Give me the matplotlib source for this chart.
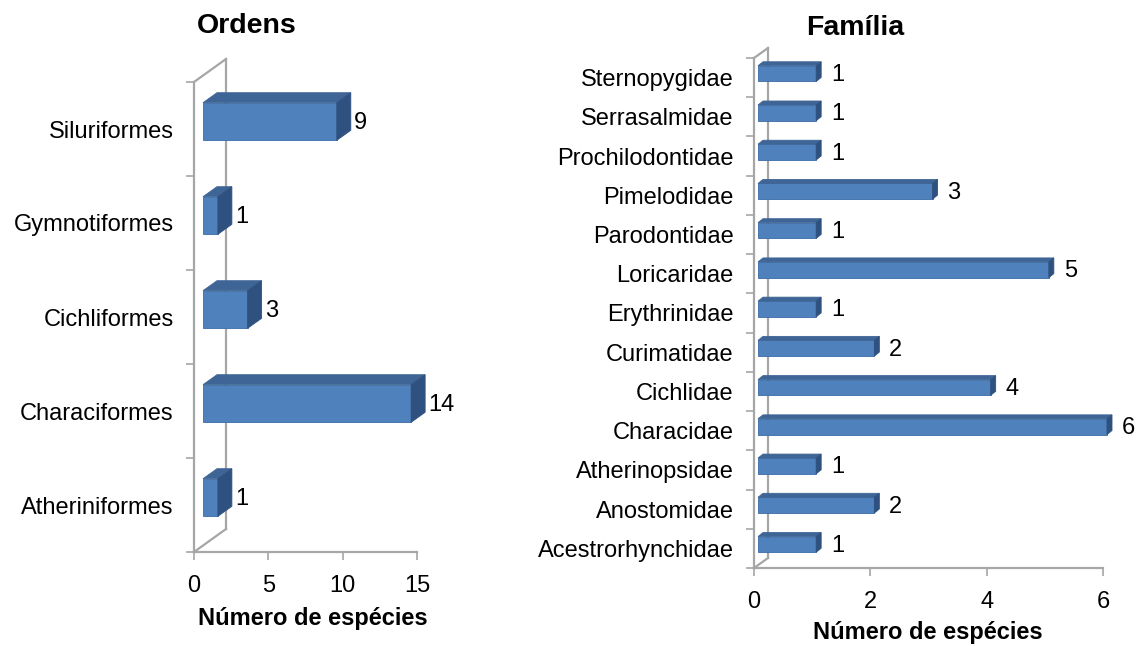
import matplotlib
matplotlib.use("Agg")
import matplotlib.pyplot as plt
from matplotlib.patches import Polygon

plt.rcParams["font.family"] = ["Liberation Sans", "DejaVu Sans"]

# ── dados ──
ordens = ["Atheriniformes", "Characiformes", "Cichliformes", "Gymnotiformes", "Siluriformes"]
ordens_n = [1, 14, 3, 1, 9]
ordens_ticks = [0, 5, 10, 15]

familias = ["Acestrorhynchidae", "Anostomidae", "Atherinopsidae", "Characidae",
            "Cichlidae", "Curimatidae", "Erythrinidae", "Loricaridae",
            "Parodontidae", "Pimelodidae", "Prochilodontidae", "Serrasalmidae",
            "Sternopygidae"]
familias_n = [1, 2, 1, 6, 4, 2, 1, 5, 1, 3, 1, 1, 1]
familias_ticks = [0, 2, 4, 6]

W, H = 1139, 646
front_c = "#4F81BD"
top_c = "#3E6596"
side_c = "#2F5180"
wall_c = "#A6A6A6"


def px_axes(fig, x0, y0, x1, y1):
    # pixel box (top-left origin) -> axes in figure fraction
    return fig.add_axes([x0 / W, 1 - y1 / H, (x1 - x0) / W, (y1 - y0) / H])


def bar3d_chart(ax, cats, vals, xmax, xticks, wall, shift, depth, lab_gap, title, title_xy):
    n = len(cats)
    ax.set_xlim(0, xmax)
    ax.set_ylim(-0.5, n - 0.5)
    bbox = ax.get_position()
    sx = bbox.width * W / xmax      # px per x unit
    sy = bbox.height * H / n        # px per y unit

    def d(px, py):
        return px / sx, py / sy

    for s in ax.spines.values():
        s.set_visible(False)

    # paredes / eixos
    wx, wy = d(*wall)
    lw = 1.6
    ax.plot([0, 0], [-0.5, n - 0.5], color=wall_c, lw=lw, clip_on=False)
    ax.plot([0, xmax], [-0.5, -0.5], color=wall_c, lw=lw, clip_on=False)
    ax.plot([wx, wx], [-0.5 + wy, n - 0.5 + wy], color=wall_c, lw=lw, clip_on=False)
    ax.plot([0, wx], [n - 0.5, n - 0.5 + wy], color=wall_c, lw=lw, clip_on=False)
    ax.plot([0, wx], [-0.5, -0.5 + wy], color=wall_c, lw=lw, clip_on=False)

    # barras 3D
    fx, fy = d(*shift)
    bx, by = d(*depth)
    h = 0.4
    for i, v in enumerate(vals):
        x0, x1 = fx, fx + v
        y0, y1 = i - h / 2 + fy, i + h / 2 + fy
        faces = [
            ([(x0, y0), (x1, y0), (x1, y1), (x0, y1)], front_c, "#3A6BA5"),
            ([(x0, y1), (x1, y1), (x1 + bx, y1 + by), (x0 + bx, y1 + by)], top_c, top_c),
            ([(x1, y0), (x1 + bx, y0 + by), (x1 + bx, y1 + by), (x1, y1)], side_c, side_c),
        ]
        for pts, fc, ec in faces:
            ax.add_patch(Polygon(pts, closed=True, fc=fc, ec=ec, lw=0.6,
                                 zorder=3, clip_on=False))
        lx, ly = d(lab_gap, -1.5)
        ax.text(x1 + bx + lx, i + fy + ly, str(v), fontsize=17, va="center", ha="left")

    # ticks
    ax.set_yticks(range(n))
    ax.set_yticklabels(cats, fontsize=17)
    ax.set_yticks([k - 0.5 for k in range(n + 1)], minor=True)
    ax.tick_params(axis="y", which="major", length=0, pad=14.5)
    ax.tick_params(axis="y", which="minor", length=6, width=1.2, color=wall_c)
    ax.set_xticks(xticks)
    ax.set_xticklabels([str(t) for t in xticks], fontsize=17)
    ax.tick_params(axis="x", length=6, width=1.2, color=wall_c, pad=10.5)

    ax.text(0.5, -0.5, "Número de espécies", transform=ax.transAxes, fontsize=17,
            fontweight="bold", ha="center", va="center")
    fig.text(title_xy[0] / W, 1 - title_xy[1] / H, title, fontsize=20.5,
             fontweight="bold", ha="center", va="center")


fig = plt.figure(figsize=(W / 100, H / 100), dpi=100)

ax1 = px_axes(fig, 194, 82, 417, 552)
bar3d_chart(ax1, ordens, ordens_n, 15, ordens_ticks, (32, 23), (9, 7.5), (14, 10),
            3, "Ordens", (247, 26))
ax1.texts[-1].set_position((0.535, -0.141))

ax2 = px_axes(fig, 754, 58, 1103, 568)
bar3d_chart(ax2, familias, familias_n, 6, familias_ticks, (14, 10), (4, 4), (5, 4),
            10, "Família", (855, 28))
ax2.texts[-1].set_position((0.499, -0.127))

fig.savefig("out.png", dpi=100, facecolor="white")
